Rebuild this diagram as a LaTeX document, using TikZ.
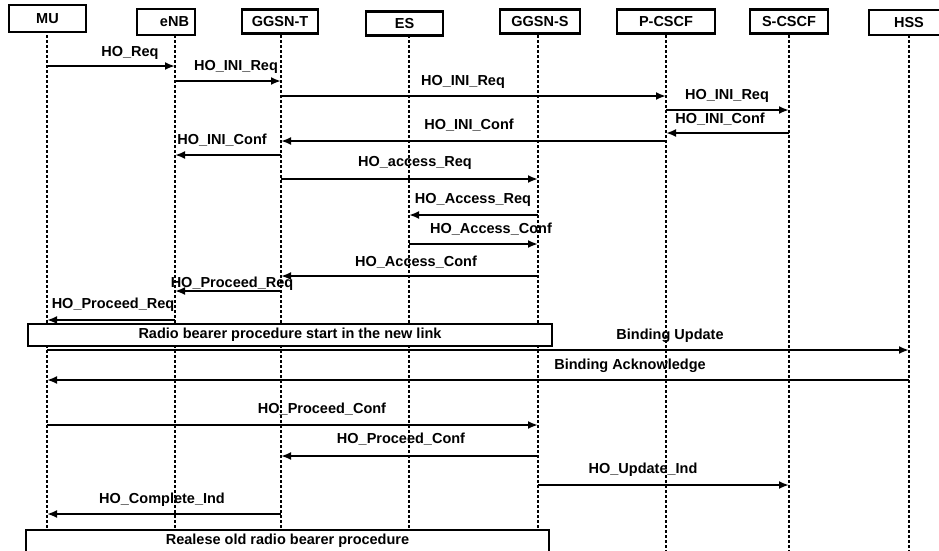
\documentclass[tikz,border=0pt]{standalone}
\usepackage{fontspec}
\setmainfont{Liberation Sans}
\usetikzlibrary{arrows.meta}

\begin{document}
\begin{tikzpicture}[x=1pt,y=-1pt,>={Latex[length=10pt,width=8pt]},
  every node/.style={font=\bfseries\fontsize{14.5}{17}\selectfont,inner sep=0pt},
  actor/.style={draw,line width=2.2pt,fill=white,minimum height=24pt},
  lifeline/.style={line width=2.2pt,dash pattern=on 3pt off 2pt},
  msg/.style={->,line width=2.2pt},
  lbl/.style={text height=10.5pt,text depth=3pt},
  phase/.style={draw,line width=2.2pt,fill=white,minimum height=22pt,text height=10.5pt,text depth=3pt}]
\useasboundingbox (0,0) rectangle (939,550);

% lifelines
\foreach \n/\x in {mu/47,enb/175,ggsnt/281,es/409,ggsns/538,pcscf/666,scscf/789,hss/909}
  {\coordinate (l-\n) at (\x,20);
   \draw[lifeline] (l-\n) -- ++(0,532);}

% entities
\node[actor,minimum width=77pt,minimum height=27pt] (mu) at (47.5,18.5) {MU};
\node[actor,minimum width=58pt,minimum height=26pt,text width=46pt,align=right] (enb) at (166,22) {eNB};
\node[actor,minimum width=76pt] (ggsnt) at (280,21.5) {GGSN-T};
\node[actor,minimum width=77pt] (es) at (404.5,23.5) {ES};
\node[actor,minimum width=80pt] (ggsns) at (540,21.5) {GGSN-S};
\node[actor,minimum width=98pt] (pcscf) at (666,21.5) {P-CSCF};
\node[actor,minimum width=78pt] (scscf) at (789,21.5) {S-CSCF};
\node[actor,minimum width=80pt,minimum height=25pt] (hss) at (909,22.5) {HSS};

% handover initiation
\draw[msg] (l-mu |- 0,66) -- (l-enb |- 0,66);
\node[lbl] (t1) at (130,53) {HO\_Req};
\draw[msg] (l-enb |- 0,81) -- (l-ggsnt |- 0,81);
\node[lbl] (t2) at (236,67) {HO\_INI\_Req};
\draw[msg] (l-ggsnt |- 0,96) -- (l-pcscf |- 0,96);
\node[lbl] (t3) at (463,82) {HO\_INI\_Req};
\draw[msg] (l-pcscf |- 0,110) -- (l-scscf |- 0,110);
\node[lbl] (t4) at (727,96) {HO\_INI\_Req};
\draw[msg] (l-scscf |- 0,133) -- (l-pcscf |- 0,133);
\node[lbl] (t5) at (720,120) {HO\_INI\_Conf};
\draw[msg] (l-pcscf |- 0,141) -- (l-ggsnt |- 0,141);
\node[lbl] (t6) at (469,126) {HO\_INI\_Conf};
\draw[msg] (l-ggsnt |- 0,155) -- (l-enb |- 0,155);
\node[lbl] (t7) at (222,141) {HO\_INI\_Conf};

% access
\draw[msg] (l-ggsnt |- 0,179) -- (l-ggsns |- 0,179);
\node[lbl] (t8) at (415,163) {HO\_access\_Req};
\draw[msg] (l-ggsns |- 0,215) -- (l-es |- 0,215);
\node[lbl] (t9) at (473,200) {HO\_Access\_Req};
\draw[msg] (l-es |- 0,244) -- (l-ggsns |- 0,244);
\node[lbl] (t10) at (491,230) {HO\_Access\_Conf};
\draw[msg] (l-ggsns |- 0,276) -- (l-ggsnt |- 0,276);
\node[lbl] (t11) at (416,263) {HO\_Access\_Conf};
\draw[msg] (l-ggsnt |- 0,291) -- (l-enb |- 0,291);
\node[lbl] (t12) at (232,284) {HO\_Proceed\_Req};
\draw[msg] (l-enb |- 0,320) -- (l-mu |- 0,320);
\node[lbl] (t13) at (113,305) {HO\_Proceed\_Req};

\node[phase,minimum width=524pt] (p1) at (290,335) {Radio bearer procedure start in the new link};

% binding
\draw[msg] (l-mu |- 0,350) -- (l-hss |- 0,350);
\node[lbl] (t14) at (670,336) {Binding Update};
\draw[msg] (l-hss |- 0,380) -- (l-mu |- 0,380);
\node[lbl] (t15) at (630,366) {Binding Acknowledge};

% completion
\draw[msg] (l-mu |- 0,425) -- (l-ggsns |- 0,425);
\node[lbl] (t16) at (322,410) {HO\_Proceed\_Conf};
\draw[msg] (l-ggsns |- 0,456) -- (l-ggsnt |- 0,456);
\node[lbl] (t17) at (401,440) {HO\_Proceed\_Conf};
\draw[msg] (l-ggsns |- 0,485) -- (l-scscf |- 0,485);
\node[lbl] (t18) at (643,470) {HO\_Update\_Ind};
\draw[msg] (l-ggsnt |- 0,514) -- (l-mu |- 0,514);
\node[lbl] (t19) at (162,500) {HO\_Complete\_Ind};

\node[phase,minimum width=523pt] (p2) at (287.5,541) {Realese old radio bearer procedure};
\end{tikzpicture}
\end{document}
